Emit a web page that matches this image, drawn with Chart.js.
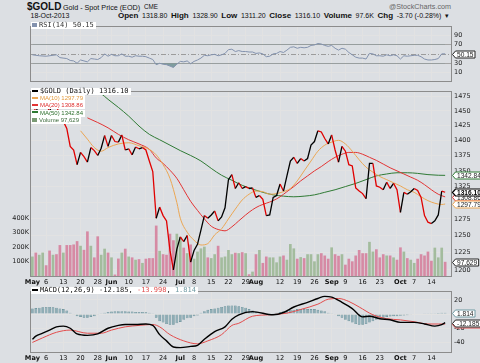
<!DOCTYPE html>
<html>
<head>
<meta charset="utf-8">
<script src="https://cdn.jsdelivr.net/npm/chart.js@4.4.0/dist/chart.umd.min.js"></script>
<style>
  html, body { margin: 0; padding: 0; }
  body { width: 480px; height: 363px; position: relative; overflow: hidden; background: #dcdfe3; font-family: "Liberation Sans", Arial, sans-serif; color: #111; }
  canvas { position: absolute; left: 0; }
  .h { position: absolute; white-space: nowrap; line-height: 1; }
  .quote { position: absolute; left: 118px; top: 11.6px; width: 331px; display: flex; justify-content: space-between; align-items: baseline; white-space: nowrap; line-height: 1; font-size: 7px; }
  .quote b { font-size: 8px; }
  .lg { position: absolute; left: 31px; background: #fff; white-space: nowrap; padding: 0 2px 0 1px; z-index: 2; height: 7px; }
  .mono { font: 7px/7px "DejaVu Sans Mono", monospace; }
  .sm { font: 6px/7px "Liberation Sans", Arial, sans-serif; }
  .ic { display: inline-block; width: 6px; height: 2px; vertical-align: middle; margin: 0 2px 1px 0; }
</style>
</head>
<body>
<div class="h" style="left:27px;top:2px;font-weight:bold;font-size:10px">$GOLD</div>
<div class="h" style="left:63px;top:3.6px;font-size:7.2px">Gold - Spot Price (EOD)</div>
<div class="h" style="left:144px;top:4.4px;font-size:6.3px">CME</div>
<div class="h" style="left:389px;top:2.6px;font-size:7.2px;color:#666">@StockCharts.com</div>
<div class="h" style="left:30.5px;top:12.4px;font-size:7px">18-Oct-2013</div>
<div class="quote">
  <b>Open</b><span>1318.80</span><b>High</b><span>1328.90</span><b>Low</b><span>1311.20</span><b>Close</b><span>1316.10</span><b>Volume</b><span>97.6K</span><b>Chg</b><span>-3.70 (-0.28%)</span><span>▾</span>
</div>

<canvas id="rsiChart" width="480" height="68" style="top:20px"></canvas>
<canvas id="priceChart" width="480" height="202" style="top:85px"></canvas>
<canvas id="macdChart" width="480" height="78" style="top:285px"></canvas>

<div class="lg mono" id="lgRsi" style="top:22px;color:#333"></div>
<div class="lg mono" id="lgPrice" style="top:88px"></div>
<div class="lg sm" id="lgMa10" style="top:95px;color:#e39a3c"></div>
<div class="lg sm" id="lgMa20" style="top:102px;color:#dd2c2c"></div>
<div class="lg sm" id="lgMa50" style="top:109.5px;color:#2c6e2c"></div>
<div class="lg sm" id="lgVol" style="top:117px;color:#3d6b3d"></div>
<div class="lg mono" id="lgMacd" style="top:287px"></div>

<script>
// trading days Apr 30 .. Oct 18 2013 (index 0..120), x positions are these indexes
const tickIdx  = [0, 4, 9, 14, 19, 23, 28, 33, 38, 43, 47, 52, 57, 62, 65, 67, 72, 77, 82, 87, 91, 96, 101, 106, 107, 111, 116];
const tickText = ['May', '6', '13', '20', '28', 'Jun', '10', '17', '24', 'Jul', '8', '15', '22', '29', 'Aug', '', '12', '19', '26', 'Sep', '9', '16', '23', '', 'Oct', '7', '14'];
const monthTicks = new Set([0, 23, 43, 65, 87, 107]);
const noGrid = new Set([0, 65, 107]);

const price = [1470, 1446, 1466, 1468, 1466, 1447, 1472, 1466, 1430, 1432,
  1420, 1390, 1384, 1360, 1380, 1373, 1364, 1388, 1383, 1375,
  1387, 1408, 1390, 1408, 1398, 1397, 1409, 1384, 1386, 1376,
  1389, 1386, 1388, 1384, 1366, 1349, 1276, 1293, 1280, 1272,
  1228, 1200, 1230, 1248, 1241, 1250, 1211, 1228, 1237, 1258,
  1280, 1276, 1281, 1287, 1272, 1278, 1292, 1336, 1344, 1322,
  1331, 1322, 1325, 1322, 1323, 1308, 1311, 1305, 1280, 1281,
  1308, 1311, 1329, 1318, 1342, 1366, 1372, 1362, 1370, 1366,
  1370, 1392, 1398, 1416, 1414, 1403, 1394, 1409, 1384, 1364,
  1390, 1382, 1360, 1358, 1323, 1318, 1314, 1306, 1362, 1362,
  1326, 1324, 1320, 1332, 1322, 1330, 1320, 1285, 1316, 1313,
  1317, 1322, 1319, 1308, 1280, 1270, 1268, 1272, 1281, 1318,
  1316.10];

// volume in thousands
const volumeK = [134, 161, 146, 161, 74, 175, 146, 150, 213, 161,
  213, 213, 217, 240, 208, 180, 307, 208, 128, 273,
  146, 188, 161, 128, 10, 120, 161, 188, 134, 128,
  112, 116, 90, 119, 123, 123, 347, 173, 150, 146,
  291, 246, 291, 269, 195, 157, 217, 119, 168, 190,
  202, 128, 123, 150, 208, 128, 134, 179, 150, 160,
  157, 164, 157, 12, 30, 150, 179, 90, 134, 128,
  128, 94, 134, 141, 112, 220, 190, 119, 130, 123,
  150, 150, 101, 150, 157, 141, 119, 197, 150, 139,
  150, 78, 119, 101, 141, 179, 157, 157, 235, 168,
  184, 128, 150, 141, 141, 128, 112, 197, 168, 123,
  112, 90, 119, 150, 141, 168, 105, 195, 128, 195,
  97.629];

// [day index, value]
const ma10 = [[14, 1416], [16, 1402], [18, 1388], [20, 1382], [22, 1388], [25, 1394], [28, 1396], [31, 1391], [34, 1385], [36, 1376],
  [38, 1360], [40, 1338], [42, 1300], [43, 1276], [45, 1255], [47, 1243], [49, 1236], [51, 1238], [53, 1251], [55, 1260],
  [57, 1275], [59, 1290], [61, 1304], [63, 1313], [65, 1318], [67, 1317], [69, 1313], [71, 1314], [73, 1317], [75, 1322],
  [77, 1334], [79, 1350], [81, 1366], [83, 1382], [85, 1392], [87, 1397], [89, 1400], [91, 1394], [93, 1382], [95, 1368],
  [97, 1356], [99, 1348], [101, 1341], [103, 1336], [105, 1331], [107, 1326], [109, 1320], [111, 1316], [113, 1309], [115, 1303],
  [117, 1299], [119, 1297], [120, 1297.79]];
const ma20 = [[16, 1438], [19, 1430], [22, 1421], [25, 1410], [28, 1401], [31, 1394], [34, 1385], [36, 1371], [38, 1362], [40, 1351],
  [42, 1338], [44, 1320], [46, 1302], [48, 1288], [50, 1275], [52, 1264], [54, 1259], [56, 1257], [58, 1263], [60, 1272],
  [62, 1281], [64, 1289], [66, 1295], [68, 1299], [70, 1303], [72, 1309], [74, 1317], [76, 1325], [78, 1334], [80, 1342],
  [82, 1350], [84, 1357], [86, 1365], [88, 1372], [90, 1377], [92, 1380], [94, 1380], [96, 1377], [98, 1372], [100, 1367],
  [102, 1361], [104, 1355], [106, 1350], [108, 1345], [110, 1340], [112, 1335], [114, 1328], [116, 1320], [118, 1313], [120, 1308.86]];
const ma50 = [[18, 1488], [20, 1480], [22, 1470], [25, 1456], [28, 1441], [31, 1424], [34, 1410], [37, 1401], [40, 1392], [43, 1383],
  [46, 1375], [49, 1366], [52, 1354], [55, 1343], [58, 1335], [61, 1327], [64, 1321], [67, 1316], [70, 1312], [73, 1310],
  [76, 1309], [79, 1310], [82, 1312], [85, 1316], [88, 1320], [91, 1325], [94, 1330], [97, 1336], [100, 1342], [103, 1345],
  [106, 1347], [109, 1347], [112, 1346], [115, 1344], [118, 1343], [120, 1342.84]];

const rsi14 = [[0, 48], [2, 46], [4, 45], [6, 47], [7, 48], [8, 42], [10, 40], [11, 36], [12, 35], [13, 30],
  [14, 37], [15, 35], [16, 33], [17, 40], [18, 39], [19, 38], [20, 42], [21, 50], [22, 45], [23, 49],
  [24, 46], [25, 46], [26, 50], [27, 45], [28, 45], [29, 43], [30, 46], [31, 45], [32, 45], [33, 44],
  [34, 41], [35, 38], [36, 27], [37, 30], [38, 28], [39, 27], [40, 24], [41, 21], [42, 28], [43, 34],
  [44, 33], [45, 35], [46, 29], [47, 34], [48, 37], [49, 41], [50, 47], [51, 46], [52, 48], [53, 49],
  [54, 46], [55, 48], [56, 51], [57, 59], [58, 60], [59, 55], [60, 57], [61, 55], [62, 55], [63, 54],
  [64, 54], [65, 51], [66, 52], [67, 50], [68, 44], [69, 45], [70, 50], [71, 51], [72, 55], [73, 53],
  [74, 58], [75, 64], [76, 65], [77, 62], [78, 64], [79, 63], [80, 64], [81, 68], [82, 69], [83, 72],
  [84, 71], [85, 68], [86, 66], [87, 68], [88, 62], [89, 58], [90, 62], [91, 60], [92, 53], [93, 48],
  [94, 43], [95, 41], [96, 41], [97, 39], [98, 51], [99, 50], [100, 46], [101, 46], [102, 45], [103, 48],
  [104, 46], [105, 48], [106, 46], [107, 39], [108, 46], [109, 45], [110, 46], [111, 47], [112, 47], [113, 44],
  [114, 39], [115, 37], [116, 37], [117, 38], [118, 40], [119, 50], [120, 50.15]];

const macdLine = [[0, -35.6], [1, -31], [3, -27], [5, -22.6], [7, -18], [9, -17], [11, -20], [13, -28], [16, -30], [19, -28],
  [22, -20], [25, -16], [27, -14.7], [30, -14.7], [33, -14], [35, -16], [37, -29], [39, -37.8], [41, -46.5], [43, -47.3],
  [46, -45.6], [48, -44], [50, -35.6], [53, -24.8], [56, -18], [58, -7.4], [60, -1], [64, 3.5], [70, -1], [73, 2.2],
  [76, 10], [80, 16.6], [83, 22], [85, 25], [87, 24], [90, 16.6], [93, 7.8], [96, -4], [98, -3], [101, -6.5],
  [104, -8], [107, -11.7], [111, -11.7], [114, -14], [117, -17], [119, -15], [120, -12.185]];
const signalLine = [[0, -40], [3, -33.5], [7, -25.7], [11, -22.6], [16, -27], [20, -27], [23, -22.6], [27, -18], [31, -16], [35, -14.7],
  [37, -18], [40, -29], [44, -37.8], [48, -42], [51, -37.8], [55, -29], [58, -16], [60, -13], [64, -3], [69, -1],
  [74, 1.3], [78, 6.5], [83, 14], [86, 21], [89, 22], [92, 17.8], [95, 10], [99, -1], [103, -6.5], [107, -8.2],
  [111, -10.8], [115, -14], [118, -14], [120, -13.998]];
const histogram = [8, 8.5, 9, 9.5, 10, 10, 9.5, 9, 8, 7,
  5, 2, -1, -3, -4, -5, -5, -4, -3, -1,
  1, 2, 3, 3.5, 4, 4, 4, 4, 3.5, 3.5, 3, 3, 3, 2.5, 2, 1,
  -5, -10, -12, -14, -15, -15, -13, -11, -8, -6, -5, -3, -2,
  2, 4, 6, 7, 8, 9, 10, 11, 12, 12, 12, 11,
  10, 9, 7, 5, 3, 1, 0, -1, 0, 1, 2, 3,
  4, 5, 6, 6, 7, 7, 7, 7, 7, 7, 6, 5,
  4, 2, 1, -1, -3, -5, -8, -10, -12, -14, -15, -15, -14, -12, -10,
  -8, -6, -5, -4, -3.5, -3, -3, -2.5, -2, -1.5, -1, -0.5, 0, 0, 0.5, 0.5, 1, 1, 1.5, 1.8, 1.814];

const priceTicks = [1200, 1225, 1250, 1275, 1300, 1325, 1350, 1375, 1400, 1425, 1450, 1475];
const volTicks = [100000, 200000, 300000, 400000];
const rsiTicks = [10, 30, 50, 70, 90];
const macdTicks = [-40, -20, 0, 20];

const GRID = '#e2e2e2';
const FONT = 'DejaVu Sans';
const BLACK = '#000000', RED = '#e00000';
const C_MA10 = '#eba653', C_MA20 = '#e23434', C_MA50 = '#2f7a34';
const C_UP = '#a3bc9d', C_DOWN = '#d68aa4';

const pts = arr => arr.map((v, i) => ({ x: i, y: v }));
const pairs = arr => arr.map(([x, y]) => ({ x, y }));
const last = arr => { const v = arr[arr.length - 1]; return Array.isArray(v) ? v[1] : v; };

function xAxis(showLabels) {
  return {
    type: 'linear', min: -0.4, max: 121.7, offset: false,
    afterBuildTicks: s => { s.ticks = tickIdx.map(v => ({ value: v })); },
    afterFit: s => { s.height = showLabels ? 11 : 0; },
    border: { display: false },
    grid: { offset: false, drawTicks: false, color: c => (c.tick && noGrid.has(c.tick.value)) ? 'rgba(0,0,0,0)' : GRID },
    ticks: {
      display: showLabels, autoSkip: false, maxRotation: 0, padding: 2, color: '#111',
      font: c => ({ family: FONT, size: 6.6, weight: (c.tick && monthTicks.has(c.tick.value)) ? 'bold' : 'normal' }),
      callback: v => { const k = tickIdx.indexOf(v); return k < 0 ? '' : tickText[k]; }
    }
  };
}

const frame = {
  id: 'frame',
  afterDatasetsDraw(chart) {
    const { ctx, chartArea: a } = chart;
    ctx.save();
    ctx.strokeStyle = '#8c8c8c';
    ctx.lineWidth = 1;
    ctx.strokeRect(Math.round(a.left) - 0.5, Math.round(a.top) - 0.5, Math.round(a.right - a.left) + 1, Math.round(a.bottom - a.top) + 1);
    ctx.restore();
  }
};

// last-value tags on the right edge
const tags = {
  id: 'tags',
  afterDraw(chart, args, opts) {
    const { ctx, chartArea: a } = chart;
    (opts.items || []).forEach(t => {
      const y = Math.round(chart.scales[t.axis].getPixelForValue(t.value)) + 0.5;
      ctx.save();
      ctx.font = (t.bold ? 'bold ' : '') + '6.6px "Liberation Sans"';
      const w = ctx.measureText(t.text).width + 3;
      const x = Math.round(a.right) + 1.5;
      ctx.beginPath();
      ctx.moveTo(x, y);
      ctx.lineTo(x + 3, y - 3.5);
      ctx.lineTo(x + 3 + w, y - 3.5);
      ctx.lineTo(x + 3 + w, y + 3.5);
      ctx.lineTo(x + 3, y + 3.5);
      ctx.closePath();
      ctx.fillStyle = '#fff';
      ctx.fill();
      ctx.strokeStyle = t.color;
      ctx.lineWidth = t.bold ? 1.2 : 1;
      ctx.stroke();
      ctx.fillStyle = t.textColor || '#222';
      ctx.textBaseline = 'middle';
      ctx.fillText(t.text, x + 4.5, y + 0.5);
      ctx.restore();
    });
  }
};

const rsiLevels = {
  id: 'rsiLevels',
  beforeDatasetsDraw(chart) {
    const { ctx, chartArea: a, scales: { y } } = chart;
    ctx.save();
    ctx.lineWidth = 1;
    [[70, []], [30, []], [50, [5, 2, 1, 2]]].forEach(([v, dash]) => {
      const py = Math.round(y.getPixelForValue(v)) + 0.5;
      ctx.strokeStyle = v === 50 ? '#9c9c9c' : '#a4a4a4';
      ctx.setLineDash(dash);
      ctx.beginPath();
      ctx.moveTo(a.left, py);
      ctx.lineTo(a.right, py);
      ctx.stroke();
    });
    ctx.restore();
  }
};

const baseOpts = {
  responsive: false, animation: false, devicePixelRatio: 1,
  events: [],
};

// ---- RSI panel
new Chart(document.getElementById('rsiChart'), {
  type: 'line',
  data: {
    datasets: [{
      data: pairs(rsi14), borderColor: '#8392ae', borderWidth: 1, pointRadius: 0, tension: 0,
      fill: { target: { value: 30 }, above: 'rgba(0,0,0,0)', below: 'rgba(95,135,135,0.75)' }, order: 1
    }, {
      data: pairs(rsi14), borderColor: 'rgba(0,0,0,0)', borderWidth: 0, pointRadius: 0, tension: 0,
      fill: { target: { value: 70 }, above: 'rgba(95,135,135,0.75)', below: 'rgba(0,0,0,0)' }, order: 2
    }]
  },
  options: {
    ...baseOpts,
    layout: { padding: { left: 31, top: 2, bottom: 2, right: 0 } },
    scales: {
      x: xAxis(false),
      y: {
        position: 'right', min: -8, max: 107.5,
        afterBuildTicks: s => { s.ticks = rsiTicks.map(v => ({ value: v })); },
        afterFit: s => { s.width = 29; },
        border: { display: false },
        grid: { drawTicks: false, color: c => (c.tick && (c.tick.value === 10 || c.tick.value === 90)) ? GRID : 'rgba(0,0,0,0)' },
        ticks: { padding: 3, color: '#222', font: { family: FONT, size: 6.5 }, callback: v => v === 50 ? '' : String(v) }
      }
    },
    plugins: {
      legend: { display: false }, tooltip: { enabled: false },
      tags: { items: [{ axis: 'y', value: last(rsi14), text: last(rsi14).toFixed(2), color: '#222' }] }
    }
  },
  plugins: [rsiLevels, frame, tags]
});

// ---- price panel
new Chart(document.getElementById('priceChart'), {
  type: 'line',
  data: {
    datasets: [{
      type: 'bar', data: pts(volumeK.map(v => v * 1000)), yAxisID: 'v', order: 9,
      backgroundColor: volumeK.map((v, i) => (i > 0 && price[i] < price[i - 1]) ? C_DOWN : C_UP),
      barPercentage: 1, categoryPercentage: 0.78
    }, {
      data: pairs(ma50), yAxisID: 'p', borderColor: C_MA50, borderWidth: 1, pointRadius: 0, cubicInterpolationMode: 'monotone', order: 4
    }, {
      data: pairs(ma20), yAxisID: 'p', borderColor: C_MA20, borderWidth: 1, pointRadius: 0, cubicInterpolationMode: 'monotone', order: 3
    }, {
      data: pairs(ma10), yAxisID: 'p', borderColor: C_MA10, borderWidth: 1, pointRadius: 0, cubicInterpolationMode: 'monotone', order: 2
    }, {
      data: pts(price), yAxisID: 'p', borderColor: BLACK, borderWidth: 1.3, pointRadius: 0, tension: 0, order: 1,
      segment: { borderColor: c => c.p1.parsed.y < c.p0.parsed.y ? RED : BLACK }
    }]
  },
  options: {
    ...baseOpts,
    layout: { padding: { left: 0, top: 2, bottom: 0, right: 0 } },
    scales: {
      x: xAxis(true),
      p: {
        type: 'logarithmic', position: 'right', min: 1191.2, max: 1483.1,
        afterBuildTicks: s => { s.ticks = priceTicks.map(v => ({ value: v })); },
        afterFit: s => { s.width = 29; },
        border: { display: false },
        grid: { drawTicks: false, color: GRID },
        ticks: { padding: 3, color: '#222', font: { family: FONT, size: 6.5 }, callback: v => String(v) }
      },
      v: {
        type: 'linear', position: 'left', min: 0, max: 1267000,
        afterBuildTicks: s => { s.ticks = volTicks.map(v => ({ value: v })); },
        afterFit: s => { s.width = 31; },
        border: { display: false },
        grid: { display: false, drawTicks: false },
        ticks: { padding: 2, color: '#222', font: { family: FONT, size: 6.5 }, callback: v => (v / 1000) + 'K' }
      }
    },
    plugins: {
      legend: { display: false }, tooltip: { enabled: false },
      tags: {
        items: [
          { axis: 'p', value: last(ma20), text: last(ma20).toFixed(2), color: C_MA20 },
          { axis: 'p', value: last(ma50), text: last(ma50).toFixed(2), color: C_MA50 },
          { axis: 'p', value: last(ma10), text: last(ma10).toFixed(2), color: C_MA10 },
          { axis: 'p', value: last(price), text: last(price).toFixed(2), color: '#000', bold: true, textColor: '#000' },
          { axis: 'v', value: last(volumeK) * 1000, text: Math.round(last(volumeK) * 1000).toLocaleString('en-US'), color: '#222' }
        ]
      }
    }
  },
  plugins: [frame, tags]
});

// ---- MACD panel
new Chart(document.getElementById('macdChart'), {
  type: 'line',
  data: {
    datasets: [{
      type: 'bar', data: pts(histogram), order: 9,
      backgroundColor: 'rgba(128,165,174,0.85)', borderColor: '#5d8891', borderWidth: 0.6,
      barPercentage: 1, categoryPercentage: 0.8
    }, {
      data: pairs(signalLine), borderColor: '#e24c4c', borderWidth: 1, pointRadius: 0, cubicInterpolationMode: 'monotone', order: 2
    }, {
      data: pairs(macdLine), borderColor: BLACK, borderWidth: 1.4, pointRadius: 0, cubicInterpolationMode: 'monotone', order: 1
    }]
  },
  options: {
    ...baseOpts,
    layout: { padding: { left: 31, top: 2, bottom: 0, right: 0 } },
    scales: {
      x: xAxis(true),
      y: {
        position: 'right', min: -53.5, max: 31.3,
        afterBuildTicks: s => { s.ticks = macdTicks.map(v => ({ value: v })); },
        afterFit: s => { s.width = 29; },
        border: { display: false },
        grid: { drawTicks: false, color: GRID },
        ticks: { padding: 3, color: '#222', font: { family: FONT, size: 6.5 }, callback: v => v === 0 ? '' : String(v) }
      }
    },
    plugins: {
      legend: { display: false }, tooltip: { enabled: false },
      tags: {
        items: [
          { axis: 'y', value: last(signalLine), text: last(signalLine).toFixed(3), color: '#e24c4c' },
          { axis: 'y', value: last(histogram), text: last(histogram).toFixed(3), color: '#6f9aa3' },
          { axis: 'y', value: last(macdLine), text: last(macdLine).toFixed(3), color: '#222' }
        ]
      }
    }
  },
  plugins: [frame, tags]
});

// ---- legends
const icon = c => `<span class="ic" style="background:${c}"></span>`;
document.getElementById('lgRsi').innerHTML = `<span class="ic" style="background:#8392ae;width:5px;height:4px"></span>RSI(14) ${last(rsi14).toFixed(2)}`;
document.getElementById('lgPrice').innerHTML = `${icon('#000')}$GOLD (Daily) ${last(price).toFixed(2)}`;
document.getElementById('lgMa10').innerHTML = `${icon(C_MA10)}MA(10) ${last(ma10).toFixed(2)}`;
document.getElementById('lgMa20').innerHTML = `${icon(C_MA20)}MA(20) ${last(ma20).toFixed(2)}`;
document.getElementById('lgMa50').innerHTML = `${icon(C_MA50)}MA(50) ${last(ma50).toFixed(2)}`;
document.getElementById('lgVol').innerHTML = `<span class="ic" style="background:#7a9a74;width:5px;height:4px"></span>Volume ${Math.round(last(volumeK) * 1000).toLocaleString('en-US')}`;
document.getElementById('lgMacd').innerHTML = `${icon('#000')}MACD(12,26,9) ${last(macdLine).toFixed(3)}, <span style="color:#e24c4c">${last(signalLine).toFixed(3)}</span>, <span style="color:#6f9aa3">${last(histogram).toFixed(3)}</span>`;
</script>
</body>
</html>
